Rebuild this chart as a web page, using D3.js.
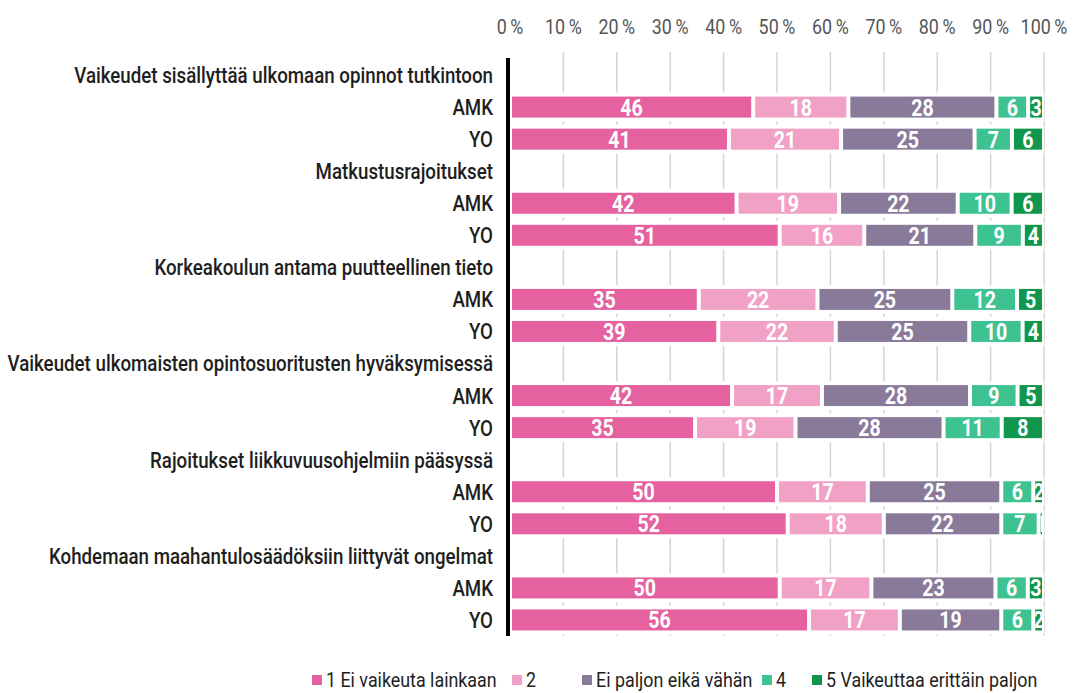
<!DOCTYPE html>
<html>
<head>
<meta charset="utf-8">
<script src="https://cdn.jsdelivr.net/npm/d3@7"></script>
<style>
  body { margin: 0; background: #fff; }
  svg text { font-family: Roboto, "Liberation Sans", Arial, sans-serif; }
</style>
</head>
<body>
<div id="chart"></div>
<script>
// data
const groups = [
   "Vaikeudet sisällyttää ulkomaan opinnot tutkintoon",
   "Matkustusrajoitukset",
   "Korkeakoulun antama puutteellinen tieto",
   "Vaikeudet ulkomaisten opintosuoritusten hyväksymisessä",
   "Rajoitukset liikkuvuusohjelmiin pääsyssä",
   "Kohdemaan maahantulosäädöksiin liittyvät ongelmat"
];
const schools = ["AMK", "YO"];
const amkValues = [
   [46, 18, 28, 6, 3],
   [42, 19, 22, 10, 6],
   [35, 22, 25, 12, 5],
   [42, 17, 28, 9, 5],
   [50, 17, 25, 6, 2],
   [50, 17, 23, 6, 3]
];
const yoValues = [
   [41, 21, 25, 7, 6],
   [51, 16, 21, 9, 4],
   [39, 22, 25, 10, 4],
   [35, 19, 28, 11, 8],
   [52, 18, 22, 7, 1],
   [56, 17, 19, 6, 2]
];
const categories = ["1 Ei vaikeuta lainkaan", "2", "Ei paljon eikä vähän", "4", "5 Vaikeuttaa erittäin paljon"];
const colors = ["#e5619f", "#f2a1c6", "#8a7a9a", "#3fc291", "#10974b"];
const tickValues = [0, 10, 20, 30, 40, 50, 60, 70, 80, 90, 100];

// Size of the svg
const w = 1074;
const h = 693;

// build the rows: header, AMK, YO for every group
const rows = [];
groups.forEach((g, i) => {
   rows.push({ key: "h" + i, label: g, values: null });
   rows.push({ key: "a" + i, label: schools[0], values: amkValues[i] });
   rows.push({ key: "y" + i, label: schools[1], values: yoValues[i] });
});

const xScale = d3.scaleLinear()
   .domain([0, 100])
   .range([510, 1044]);

const yScale = d3.scaleBand()
   .domain(rows.map(d => d.key))
   .range([59, 636]);

const barH = 21;
const fs = 22;

const svg = d3.select("#chart")
   .append("svg")
   .attr("width", w)
   .attr("height", h);

// the original font is a condensed one: squeeze text horizontally.
// factors found by fitting labels to their widths in the picture
function textWidth(str, weight, size) {
   const t = svg.append("text").attr("font-size", size).attr("font-weight", weight).text(str);
   const len = t.node().getComputedTextLength();
   t.remove();
   return len;
}
const sxBold = Math.min(2234 / d3.sum(groups, g => textWidth(g, 500, fs)), 486 / textWidth(groups[3], 500, fs));
const legendFs = 21;
const sx = 0.96 * 561 / (textWidth(categories[0], 400, legendFs) + textWidth(categories[2], 400, legendFs) + textWidth(categories[4], 400, legendFs));

const cy = key => yScale(key) + yScale.bandwidth() / 2;

// grid lines
svg.append("g")
   .selectAll("line")
   .data(tickValues.slice(1))
   .enter()
   .append("line")
   .attr("x1", d => xScale(d))
   .attr("x2", d => xScale(d))
   .attr("y1", 52)
   .attr("y2", 636)
   .attr("stroke", "#d4d4d4")
   .attr("stroke-width", 1.5);

// top tick labels
svg.append("g")
   .selectAll("text")
   .data(tickValues)
   .enter()
   .append("text")
   .attr("transform", d => `translate(${xScale(d)}, 34) scale(${sx}, 1)`)
   .attr("text-anchor", "middle")
   .attr("font-size", legendFs)
   .attr("fill", "#555")
   .text(d => d + "\u2009%");

// labels on the left
svg.append("g")
   .selectAll("text")
   .data(rows)
   .enter()
   .append("text")
   .attr("transform", d => `translate(493, ${cy(d.key)}) scale(${sxBold}, 1)`)
   .attr("dy", "0.36em")
   .attr("text-anchor", "end")
   .attr("font-size", fs)
   .attr("font-weight", 500)
   .attr("fill", "#1e1e1e")
   .text(d => d.label);

// stacked bars
const dataRows = rows.filter(d => d.values);
const segs = [];
dataRows.forEach((r, ri) => {
   const total = d3.sum(r.values);
   let acc = 0;
   r.values.forEach((v, ci) => {
      const share = v / total * 100;
      segs.push({ row: r.key, cat: ci, value: v, x0: acc, x1: acc + share, id: "c" + ri + "_" + ci });
      acc += share;
   });
});

// white band behind each bar
svg.append("g")
   .selectAll("rect")
   .data(dataRows)
   .enter()
   .append("rect")
   .attr("x", xScale(0))
   .attr("width", xScale(100) - xScale(0))
   .attr("y", d => cy(d.key) - barH / 2 - 4)
   .attr("height", barH + 8)
   .attr("fill", "#fff");

const defs = svg.append("defs");
defs.selectAll("clipPath")
   .data(segs)
   .enter()
   .append("clipPath")
   .attr("id", d => d.id)
   .attr("clipPathUnits", "userSpaceOnUse")
   .append("rect")
   .attr("x", d => xScale(d.x0) + 2)
   .attr("width", d => Math.max(0, xScale(d.x1) - xScale(d.x0) - 4))
   .attr("y", d => cy(d.row) - barH / 2)
   .attr("height", barH);

const segG = svg.append("g")
   .selectAll("g")
   .data(segs)
   .enter()
   .append("g");

segG.append("rect")
   .attr("x", d => xScale(d.x0) + 2)
   .attr("width", d => Math.max(0, xScale(d.x1) - xScale(d.x0) - 4))
   .attr("y", d => cy(d.row) - barH / 2)
   .attr("height", barH)
   .attr("fill", d => colors[d.cat]);

// value labels, clipped to their segment
segG.append("g")
   .attr("clip-path", d => "url(#" + d.id + ")")
   .append("text")
   .attr("transform", d => `translate(${(xScale(d.x0) + xScale(d.x1)) / 2}, ${cy(d.row)}) scale(${sxBold}, 1)`)
   .attr("dy", "0.37em")
   .attr("text-anchor", "middle")
   .attr("font-size", fs + 1)
   .attr("font-weight", "bold")
   .attr("fill", "#fff")
   .text(d => d.value);

// black axis line
svg.append("rect")
   .attr("x", 506)
   .attr("y", 58)
   .attr("width", 4)
   .attr("height", 578)
   .attr("fill", "#000");

// legend
const legendX = [312, 512, 582, 762, 812];
const legend = svg.append("g")
   .selectAll("g")
   .data(categories)
   .enter()
   .append("g")
   .attr("transform", (d, i) => `translate(${legendX[i]}, 679)`);

legend.append("rect")
   .attr("x", 0)
   .attr("y", -4)
   .attr("width", 10)
   .attr("height", 10)
   .attr("fill", (d, i) => colors[i]);

legend.append("text")
   .attr("transform", `translate(14, 0) scale(${sx}, 1)`)
   .attr("dy", "0.36em")
   .attr("font-size", legendFs)
   .attr("fill", "#1e1e1e")
   .text(d => d);
</script>
</body>
</html>
